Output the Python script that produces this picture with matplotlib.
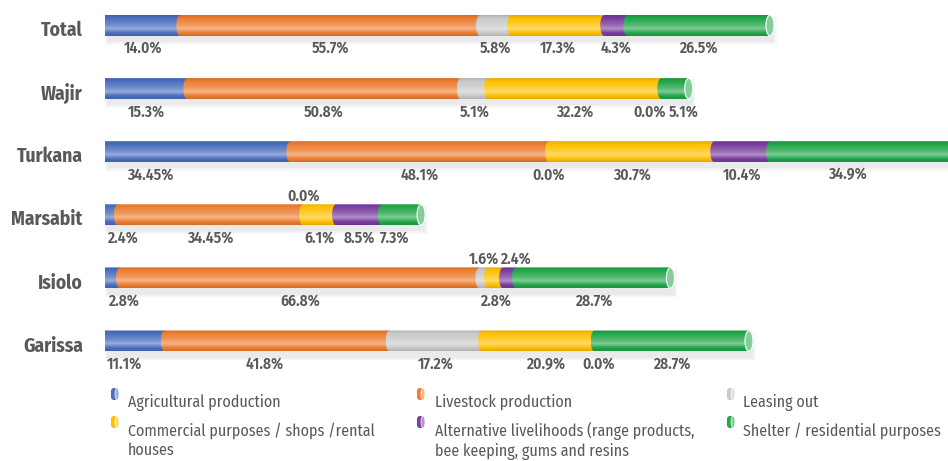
import numpy as np
import matplotlib
matplotlib.use("Agg")
import matplotlib.pyplot as plt
from matplotlib import font_manager
from matplotlib.colors import to_rgb
from matplotlib.path import Path
from matplotlib.patches import PathPatch, Ellipse, FancyBboxPatch, Rectangle
from matplotlib.transforms import ScaledTranslation

CATEGORIES = ["Total", "Wajir", "Turkana", "Marsabit", "Isiolo", "Garissa"]
SERIES = [
    "Agricultural production",
    "Livestock production",
    "Leasing out",
    "Commercial purposes / shops /rental\nhouses",
    "Alternative livelihoods (range products,\nbee keeping, gums and resins",
    "Shelter / residential purposes",
]
AGRICULTURE = [14.0, 15.3, 34.45, 2.4, 2.8, 11.1]
LIVESTOCK = [55.7, 50.8, 48.1, 34.45, 66.8, 41.8]
LEASING = [5.8, 5.1, 0.0, 0.0, 1.6, 17.2]
COMMERCIAL = [17.3, 32.2, 30.7, 6.1, 2.8, 20.9]
ALTERNATIVE = [4.3, 0.0, 10.4, 8.5, 2.4, 0.0]
SHELTER = [26.5, 5.1, 34.9, 7.3, 28.7, 28.7]

COLORS = ["#4a6fbf", "#ed7d31", "#c9c9c9", "#ffc000", "#7a3d9e", "#22a64a"]
TEXT = "#595959"

# pick a condensed face if one is installed
installed = {f.name for f in font_manager.fontManager.ttflist}
FACE = next((n for n in ["Fira Sans Condensed", "Roboto Condensed", "Open Sans Condensed",
                         "Fira Sans", "Roboto"] if n in installed), "DejaVu Sans")
plt.rcParams["font.family"] = [FACE, "DejaVu Sans"]

# label nudges (pixels) and which small-segment labels go above the bar
NUDGE = {(1, 4): -12, (1, 5): 9, (2, 0): -47, (2, 5): -17, (3, 0): 11,
         (3, 5): -7, (4, 0): 11, (4, 4): 6, (5, 0): -10, (5, 1): -12,
         (5, 3): 7, (5, 4): 4}
ABOVE = {(3, 2), (4, 2), (4, 4)}

W, H, DPI = 948, 461, 100
PX_PER_UNIT = 5.38
X0_PX = 105
ROW0_PX, ROW_STEP_PX = 25.5, 63.1
AX_BOTTOM_PX = 380

fig = plt.figure(figsize=(W / DPI, H / DPI), dpi=DPI)
ax = fig.add_axes([X0_PX / W, 1 - AX_BOTTOM_PX / H, (W - X0_PX) / W, AX_BOTTOM_PX / H])
ax.set_xlim(0, (W - X0_PX) / PX_PER_UNIT)
ax.set_ylim((AX_BOTTOM_PX - ROW0_PX) / ROW_STEP_PX, -ROW0_PX / ROW_STEP_PX)

rx = 4.0 / PX_PER_UNIT          # cap radius in data units
hh = 10.5 / ROW_STEP_PX         # half bar height in data units


def mix(c, other, f):
    c, o = np.array(to_rgb(c)), np.array(to_rgb(other))
    return c * (1 - f) + o * f


def gradient(color, n=64):
    t = np.linspace(0, 1, n)
    stops = [0, 0.15, 0.45, 0.65, 0.85, 1.0]
    cols = np.array([mix(color, "black", 0.12), np.array(to_rgb(color)),
                     mix(color, "white", 0.2), mix(color, "white", 0.42),
                     np.array(to_rgb(color)), mix(color, "black", 0.12)])
    img = np.stack([np.interp(t, stops, cols[:, k]) for k in range(3)], axis=1)
    return np.repeat(img[:, None, :], 2, axis=1)


def segment(x0, x1, y, color, z):
    th = np.linspace(np.pi / 2, 3 * np.pi / 2, 30)
    cap = np.column_stack([x0 + rx * np.cos(th), y - hh * np.sin(th)])
    verts = np.vstack([cap, [[x1, y + hh], [x1, y - hh], [x0, y - hh]]])
    patch = PathPatch(Path(verts, closed=True), facecolor="none",
                      edgecolor="none", transform=ax.transData)
    ax.add_patch(patch)
    im = ax.imshow(gradient(color), extent=(x0 - rx, x1, y + hh, y - hh),
                   origin="upper", aspect="auto", zorder=z, interpolation="bilinear")
    im.set_clip_path(patch)


values = np.array([AGRICULTURE, LIVESTOCK, LEASING, COMMERCIAL, ALTERNATIVE, SHELTER])

for i in range(len(CATEGORIES)):
    row = values[:, i]
    total = row.sum()
    # soft shadow under the bar
    for k, a in enumerate([0.05, 0.05, 0.06]):
        grow = (3 - k) * 1.2
        ax.add_patch(Rectangle((3 / PX_PER_UNIT - grow / PX_PER_UNIT,
                                i - hh + 5 / ROW_STEP_PX - grow / ROW_STEP_PX),
                               total + 2 * grow / PX_PER_UNIT, 2 * hh + 2 * grow / ROW_STEP_PX,
                               facecolor="#808080", edgecolor="none", alpha=a, zorder=1))
    left = 0.0
    for j, v in enumerate(row):
        if v > 0:
            segment(left, left + v, i, COLORS[j], 2 + j * 0.1)
        dy = -19 if (i, j) in ABOVE else 23
        ax.annotate(f"{v:.2f}%" if v == 34.45 else f"{v:.1f}%",
                    xy=(left + v / 2, i), xytext=(NUDGE.get((i, j), 0) * 0.72, -dy * 0.72),
                    textcoords="offset points", ha="center", va="center",
                    fontsize=11.2, fontweight="semibold", color=TEXT, zorder=5)
        left += v
    last = [j for j, v in enumerate(row) if v > 0][-1]
    ax.add_patch(Ellipse((total, i), 2 * rx, 2 * hh * 0.98,
                         facecolor=mix(COLORS[last], "white", 0.45),
                         edgecolor="white", linewidth=0.8, zorder=3))

ax.set_yticks(range(len(CATEGORIES)), CATEGORIES)
ax.tick_params(axis="y", length=0, pad=16, labelsize=14, labelcolor=TEXT)
shift = ScaledTranslation(0, -3 / DPI, fig.dpi_scale_trans)
for lab in ax.get_yticklabels():
    lab.set_fontweight("bold")
    lab.set_transform(lab.get_transform() + shift)
ax.set_xticks([])
for s in ax.spines.values():
    s.set_visible(False)

# legend drawn on a pixel-space overlay
lg = fig.add_axes([0, 0, 1, 1], zorder=-1)
lg.set_xlim(0, W)
lg.set_ylim(H, 0)
lg.axis("off")
icon_x = [115, 421, 731]
icon_y = [394, 422]
text_x = [128, 435, 743]
text_y = [402, 431]
for j, name in enumerate(SERIES):
    r, c = divmod(j, 3)
    cx, cy = icon_x[c], icon_y[r]
    lg.add_patch(FancyBboxPatch((cx - 4, cy - 6), 7, 12, boxstyle="round,pad=0,rounding_size=3",
                                facecolor=COLORS[j], edgecolor="none"))
    lg.add_patch(Ellipse((cx + 2, cy), 4, 12, facecolor=mix(COLORS[j], "white", 0.45),
                         edgecolor="white", linewidth=0.5))
    if "\n" in name:
        lg.text(text_x[c], text_y[r] - 9, name, ha="left", va="top",
                fontsize=11.5, color=TEXT, linespacing=1.25)
    else:
        lg.text(text_x[c], text_y[r], name, ha="left", va="center",
                fontsize=11.5, color=TEXT)

fig.savefig("out.png", dpi=DPI)
